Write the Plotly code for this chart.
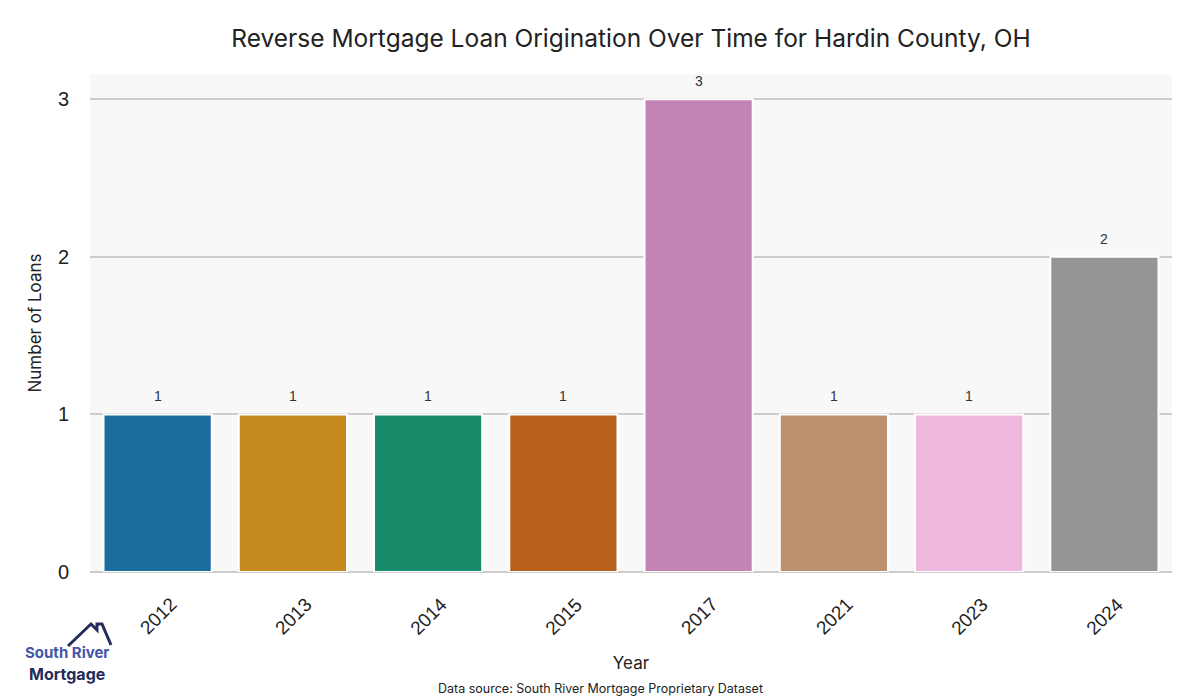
import plotly.graph_objects as go

years = ["2012", "2013", "2014", "2015", "2017", "2021", "2023", "2024"]
loans = [1, 1, 1, 1, 3, 1, 1, 2]
colors = ["#1a6e9e", "#c4881f", "#178b6a", "#b8611d", "#c383b5", "#bb9170", "#f1b8df", "#959595"]

L, R, T, B = 90, 28, 74, 128
W, H = 1200, 700
PW, PH = W - L - R, H - T - B

def px(x):
    return (x - L) / PW

def py(y):
    return (H - B - y) / PH

fig = go.Figure()
fig.add_trace(go.Bar(
    x=years, y=loans,
    marker_color=colors,
    marker_line_color="white", marker_line_width=2,
))

annotations = []
for i, (yr, v) in enumerate(zip(years, loans)):
    annotations.append(dict(
        x=i, xref="x", y=py(616), yref="paper", text=yr, showarrow=False,
        textangle=-45, font=dict(size=19, color="#222222", family="Liberation Sans, Arial"),
        xanchor="center", yanchor="middle",
    ))
    annotations.append(dict(
        x=i, xref="x", y=v, yref="y", text=str(v), showarrow=False,
        font=dict(size=14, color="#333333", family="Liberation Sans, Arial"),
        xanchor="center", yanchor="middle", yshift=18,
    ))
annotations.append(dict(
    x=px(600), xref="paper", y=py(688), yref="paper",
    text="Data source: South River Mortgage Proprietary Dataset", showarrow=False,
    font=dict(size=12.5, color="#222222", family="Inter, Lato, sans-serif"),
    xanchor="center", yanchor="middle",
))
annotations.append(dict(
    x=px(67), xref="paper", y=py(663), yref="paper",
    text="<b>South River</b>", showarrow=False, borderpad=0,
    font=dict(size=15, color="#4356a8", family="Inter, Open Sans, sans-serif"),
    xanchor="center", yanchor="bottom",
))
annotations.append(dict(
    x=px(67), xref="paper", y=py(663), yref="paper",
    text="<b>Mortgage</b>", showarrow=False, borderpad=0,
    font=dict(size=16, color="#222b5c", family="Inter, Open Sans, sans-serif"),
    xanchor="center", yanchor="top",
))

roof = "M {} {} L {} {} L {} {} L {} {} L {} {} L {} {}".format(
    px(68), py(646), px(91), py(624), px(97), py(630),
    px(97), py(624), px(102), py(624), px(111), py(645))

fig.update_layout(
    width=W, height=H,
    margin=dict(l=L, r=R, t=T, b=B),
    paper_bgcolor="white", plot_bgcolor="#f8f8f8",
    title=dict(text="Reverse Mortgage Loan Origination Over Time for Hardin County, OH",
               xref="paper", x=0.5, xanchor="center", y=1 - 38 / H, yanchor="middle",
               font=dict(size=24.5, color="#222222", family="Inter, Lato, sans-serif")),
    showlegend=False,
    bargap=0.2,
    annotations=annotations,
    shapes=[dict(type="path", path=roof, xref="paper", yref="paper",
                 line=dict(color="#222b5c", width=3))],
    xaxis=dict(type="category", showticklabels=False, showgrid=False, zeroline=False,
               showline=False, automargin=False,
               title=dict(text="Year", standoff=85,
                          font=dict(size=17, color="#222222", family="Inter, Lato, sans-serif"))),
    yaxis=dict(range=[0, 3.16], tickvals=[0, 1, 2, 3], showgrid=True, automargin=False,
               gridcolor="#cccccc", gridwidth=1.5,
               zeroline=True, zerolinecolor="#cccccc", zerolinewidth=1.5, showline=False,
               ticks="outside", ticklen=16, tickcolor="rgba(0,0,0,0)",
               tickfont=dict(size=20, color="#222222", family="Liberation Sans, Arial"),
               title=dict(text="Number of Loans", standoff=11,
                          font=dict(size=17, color="#222222", family="Inter, Lato, sans-serif"))),
)

fig.write_html("out.html", config={"displayModeBar": False},
               post_script="document.body.style.margin='0';")
